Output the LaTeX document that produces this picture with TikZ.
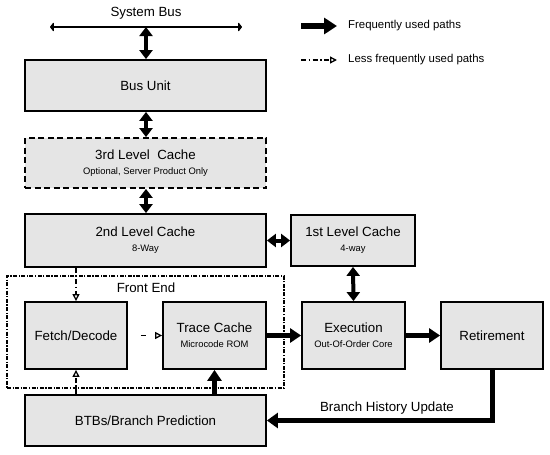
\documentclass[tikz,border=0pt]{standalone}
\usepackage{fontspec}
\setmainfont{Liberation Sans}
\usetikzlibrary{arrows.meta}
\definecolor{boxgray}{RGB}{229,229,229}
\newcommand{\mainsz}{\fontsize{13.3}{15}\selectfont}
\newcommand{\subsz}{\fontsize{9.4}{11}\selectfont}
\newcommand{\legsz}{\fontsize{11.4}{13}\selectfont}
\tikzset{
  box/.style={draw, line width=1.8pt, fill=boxgray, font=\mainsz, align=center, inner sep=0pt},
  dbox/.style={box, dash pattern=on 6pt off 3.5pt},
  fwd/.style={line width=4.5pt, -{Triangle[length=11pt,width=14pt]}},
  bidir/.style={line width=4pt, {Triangle[length=9pt,width=13pt]}-{Triangle[length=9pt,width=13pt]}},
  busline/.style={line width=2.6pt, {Triangle[length=4pt,width=10pt,round]}-{Triangle[length=4pt,width=10pt,round]}},
  less/.style={line width=1.3pt, dash pattern=on 5pt off 2.5pt on 1.5pt off 2.5pt, -{Triangle[open,length=7pt,width=7pt]}},
  lbl/.style={font=\mainsz, inner sep=0pt},
  legtxt/.style={font=\legsz, inner sep=0pt, anchor=west},
  feframe/.style={draw, line width=1.2pt, dash pattern=on 4pt off 1.5pt on 1.2pt off 1.5pt}
}
\begin{document}
\begin{tikzpicture}[x=1pt,y=-1pt]
\useasboundingbox (0,0) rectangle (550,455);
% frame of front end
\node[feframe, minimum width=277pt, minimum height=112pt, inner sep=0pt] (fe) at (145.5,332) {};
\node[lbl] (fetitle) at (146,288) {Front End};
% boxes
\node[box, minimum width=241pt, minimum height=51pt] (bus) at (145.5,85.5) {Bus Unit};
\node[dbox, minimum width=241pt, minimum height=50pt] (l3) at (145.5,163) {3rd Level\ \ Cache\\[0pt]{\subsz Optional, Server Product Only}};
\node[box, minimum width=241pt, minimum height=53pt] (l2) at (145.5,240.5) {2nd Level Cache\\[0pt]{\subsz 8-Way}};
\node[box, minimum width=124pt, minimum height=51pt] (l1) at (353,240.5) {1st Level Cache\\[0pt]{\subsz 4-way}};
\node[box, minimum width=102pt, minimum height=67pt] (fetch) at (76,335.5) {Fetch/Decode};
\node[box, minimum width=103pt, minimum height=67pt] (trace) at (214.5,335.5) {Trace Cache\\[0pt]{\subsz Microcode ROM}};
\node[box, minimum width=103pt, minimum height=67pt] (exec) at (353.5,335.5) {Execution\\[0pt]{\subsz Out-Of-Order Core}};
\node[box, minimum width=102pt, minimum height=67pt] (ret) at (492,335.5) {Retirement};
\node[box, minimum width=241pt, minimum height=51pt] (btb) at (145.5,420.5) {BTBs/Branch Prediction};
% system bus
\node[lbl] (sbtitle) at (146,13) {System Bus};
\coordinate (sbL) at (50,27);
\coordinate (sbR) at (242,27);
\coordinate (sbM) at (146,27);
\draw[busline] (sbL) -- (sbR);
\draw[bidir] (sbM) -- (sbM |- bus.north);
\draw[bidir] (bus.south -| sbM) -- (sbM |- l3.north);
\draw[bidir] (l3.south -| sbM) -- (sbM |- l2.north);
\draw[bidir] (l2.east) -- (l1.west);
\draw[bidir] (l1.south) -- (exec.north);
\draw[fwd] (trace.east) -- (exec.west);
\draw[fwd] (exec.east) -- (ret.west);
\draw[fwd] (btb.north -| trace.south) -- (trace.south);
\draw[line width=5pt, -{Triangle[length=11pt,width=15pt]}] (ret.south) -- (ret.south |- btb.east) -- (btb.east);
\node[lbl] (bhu) at (387,408) {Branch History Update};
% less frequent
\draw[less] (l2.south -| fetch.north) -- (fetch.north);
\draw[less] (btb.north -| fetch.south) -- (fetch.south);
\draw[line width=1.3pt, dash pattern=on 0pt off 13pt on 5pt off 40pt, -{Triangle[open,length=7pt,width=7pt]}] (fetch.east) -- (trace.west);
% legend
\coordinate (lgA1) at (301,26);
\coordinate (lgB1) at (337,26);
\coordinate (lgA2) at (301,60);
\coordinate (lgB2) at (337,60);
\draw[line width=5.5pt, -{Triangle[length=13pt,width=16pt]}] (lgA1) -- (lgB1);
\draw[less] (lgA2) -- (lgB2);
\node[legtxt] (lg1) at (348,26) {Frequently used paths};
\node[legtxt] (lg2) at (348,60) {Less frequently used paths};
\end{tikzpicture}
\end{document}
